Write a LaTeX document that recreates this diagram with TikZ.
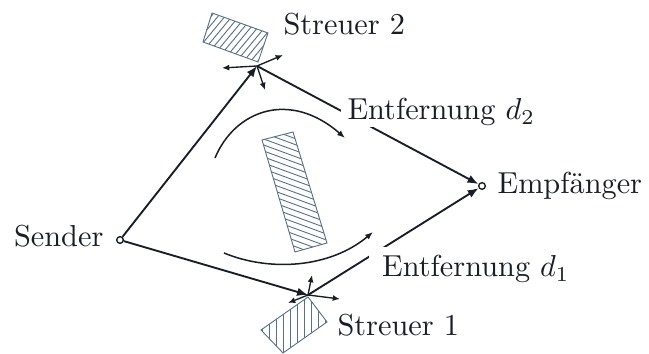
\documentclass[tikz,border=0pt]{standalone}
\usetikzlibrary{arrows.meta}
\definecolor{ink}{RGB}{25,30,38}
\definecolor{hatch}{RGB}{90,112,132}
\begin{document}
\begin{tikzpicture}[x=0.33pt,y=-0.33pt,
  ray/.style={draw=ink,line width=0.62pt,-{Latex[length=3.6pt,width=2.8pt]}},
  scat/.style={draw=ink,line width=0.45pt,-{Latex[length=2.4pt,width=2pt]}},
  flow/.style={draw=ink,line width=0.5pt,-{Latex[length=2.6pt,width=2pt]}},
  port/.style={circle,draw=ink,line width=0.45pt,fill=white,inner sep=0pt,minimum size=2.2pt},
  lbl/.style={inner sep=0pt,text=ink},
  dist/.style={lbl,fill=white},
  box/.style={draw=hatch,line width=0.3pt},
  hatchline/.style={draw=hatch,line width=0.3pt}]
\useasboundingbox (0,0) rectangle (649,354);

% transmitter, receiver and the two scattering points
\node[port] (snd) at (120,240) {};
\node[port] (rcv) at (482,186) {};
\coordinate (s2) at (257,66);
\coordinate (s1) at (308,295);

% scatterer 2 (upper)
\coordinate (r2a) at (212,13);
\coordinate (r2b) at (268,33);
\coordinate (r2c) at (258,62);
\coordinate (r2d) at (203,42);
\begin{scope}
  \clip (r2a) -- (r2b) -- (r2c) -- (r2d) -- cycle;
  \foreach \i in {-60,-53,...,100} \draw[hatchline] (190+\i,80) -- ++(70,-84);
\end{scope}
\draw[box] (r2a) -- (r2b) -- (r2c) -- (r2d) -- cycle;

% scatterer 1 (lower)
\coordinate (r1a) at (308,297);
\coordinate (r1b) at (327,322);
\coordinate (r1c) at (283,353);
\coordinate (r1d) at (261,330);
\begin{scope}
  \clip (r1a) -- (r1b) -- (r1c) -- (r1d) -- cycle;
  \foreach \i in {255,262,...,335} \draw[hatchline] (\i,290) -- (\i,360);
\end{scope}
\draw[box] (r1a) -- (r1b) -- (r1c) -- (r1d) -- cycle;

% obstacle in the middle
\coordinate (rma) at (262,140);
\coordinate (rmb) at (293,132);
\coordinate (rmc) at (327,243);
\coordinate (rmd) at (295,252);
\begin{scope}
  \clip (rma) -- (rmb) -- (rmc) -- (rmd) -- cycle;
  \foreach \i in {-10,-4,...,140} \draw[hatchline] (250,120+\i) -- ++(90,33);
\end{scope}
\draw[box] (rma) -- (rmb) -- (rmc) -- (rmd) -- cycle;

% propagation paths
\draw[ray] (snd) -- (s2);
\draw[ray] (snd) -- (s1);
\draw[ray] (s2) -- (rcv);
\draw[ray] (s1) -- (rcv);

% scattered components
\coordinate (a2l) at (222,68);
\coordinate (a2r) at (283,55);
\coordinate (a2d) at (265,90);
\draw[scat] (s2) -- (a2l);
\draw[scat] (s2) -- (a2r);
\draw[scat] (s2) -- (a2d);
\coordinate (a1u) at (312,275);
\coordinate (a1r) at (340,299);
\coordinate (a1l) at (288,303);
\draw[scat] (s1) -- (a1u);
\draw[scat] (s1) -- (a1r);
\draw[scat] (s1) -- (a1l);

% flow around the obstacle
\coordinate (fu0) at (215,158);
\coordinate (fu1) at (345,138);
\coordinate (fl0) at (224,253);
\coordinate (fl1) at (373,232);
\draw[flow] (fu0) .. controls (235,110) and (290,90) .. (fu1);
\draw[flow] (fl0) .. controls (270,272) and (330,268) .. (fl1);

% labels
\node[lbl,anchor=base east] (tsnd) at (104,247) {Sender};
\node[lbl,anchor=base west] (trcv) at (497,194) {Empf\"anger};
\node[lbl,anchor=base west] (ts2) at (283,35) {Streuer 2};
\node[lbl,anchor=base west] (ts1) at (337,336) {Streuer 1};
\node[dist,inner xsep=2.3pt,inner ysep=0.3pt,anchor=base west] (td2) at (340,120) {Entfernung $d_2$};
\node[dist,inner xsep=4.5pt,inner ysep=3pt,anchor=base west] (td1) at (368,277) {Entfernung $d_1$};
\end{tikzpicture}
\end{document}
